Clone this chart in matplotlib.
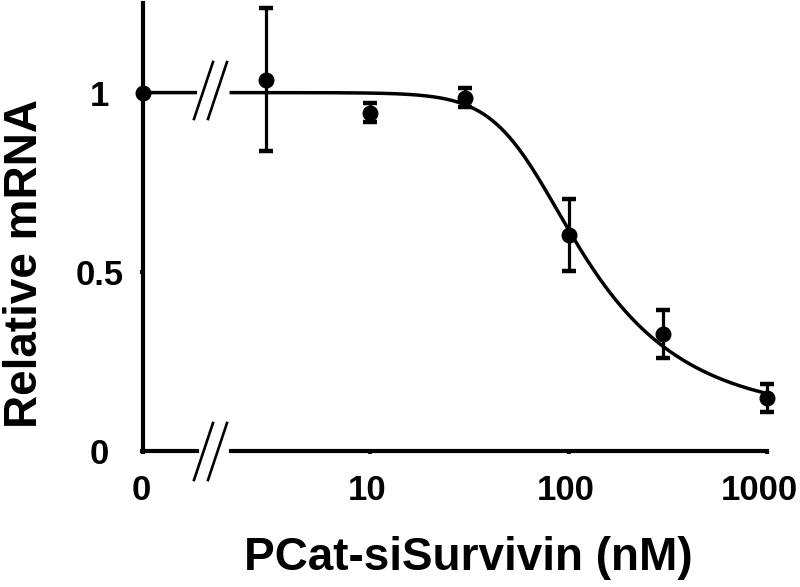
import numpy as np
import matplotlib
matplotlib.use("Agg")
import matplotlib.pyplot as plt
from matplotlib.lines import Line2D
from matplotlib.ticker import NullLocator
from matplotlib.transforms import ScaledTranslation

plt.rcParams['font.family'] = ['Liberation Sans', 'DejaVu Sans']
plt.rcParams['font.weight'] = 'bold'

# ---- data ----
conc_zero = [0]
rel_zero = [1.0]
conc = [3, 10, 30, 100, 300, 1000]
rel = [1.036, 0.944, 0.986, 0.603, 0.327, 0.148]
err = [0.200, 0.027, 0.027, 0.100, 0.067, 0.039]

# fitted dose-response curve parameters (5-parameter logistic)
fit_top, fit_bottom, fit_ec50, fit_hill, fit_asym = 1.0, 0.10, 60.0, 3.0, 0.32

x_ticks = [10, 100, 1000]
x_ticklabels = ['10', '100', '1000']
y_ticks = [0, 0.5, 1]
y_ticklabels = ['0', '0.5', '1']
x_label = 'PCat-siSurvivin (nM)'
y_label = 'Relative mRNA'


def curve(x):
    x = np.asarray(x, float)
    return fit_bottom + (fit_top - fit_bottom) / (1 + (x / fit_ec50) ** fit_hill) ** fit_asym


W, H = 800, 587
fig = plt.figure(figsize=(W / 100, H / 100), dpi=100)


def fx(px):
    return px / W


def fy(py):
    return 1 - py / H


y0_px, ytop_px = 451, 3
ax_h = fy(ytop_px) - fy(y0_px)
ax_l = fig.add_axes([fx(143), fy(y0_px), fx(197) - fx(143), ax_h])
ax_r = fig.add_axes([fx(231.3), fy(y0_px), fx(767) - fx(231.3), ax_h])

SPW = 3.0
TICK_FS = 25

for ax in (ax_l, ax_r):
    ax.set_ylim(0, 1.25)
    ax.patch.set_alpha(0)
    for s in ('top', 'right'):
        ax.spines[s].set_visible(False)
    for s in ('left', 'bottom'):
        ax.spines[s].set_linewidth(SPW)
        ax.spines[s].set_capstyle('projecting')
    ax.tick_params(axis='both', direction='out', length=2, width=SPW,
                   labelsize=TICK_FS)

# left segment (x = 0)
ax_l.set_xlim(0, 1)
xl = np.array([0.0, 1.0])
ax_l.plot(xl, curve(xl), color='k', lw=2.5, solid_capstyle='butt', clip_on=False)
ax_l.plot(conc_zero, rel_zero, 'o', color='k', ms=10.5, clip_on=False, zorder=5)
ax_l.set_xticks([0])
ax_l.set_xticklabels(['0'])
ax_l.set_yticks(y_ticks)
ax_l.set_yticklabels(y_ticklabels)
ax_l.tick_params(axis='y', pad=29.5)
ax_l.tick_params(axis='x', pad=14.5)
for lbl in ax_l.get_yticklabels():
    lbl.set_ha('center')
    lbl.set_fontweight('bold')
for lbl in ax_l.get_xticklabels():
    lbl.set_fontweight('bold')
    lbl.set_transform(lbl.get_transform() + ScaledTranslation(-2 / 100, 0, fig.dpi_scale_trans))

# right segment (log scale)
ax_r.set_xscale('log')
ax_r.set_xlim(2, 1000)
ax_r.spines['left'].set_visible(False)
ax_r.set_yticks([])
xs = np.logspace(np.log10(2), 3, 500)
ax_r.plot(xs, curve(xs), color='k', lw=2.5, clip_on=False)
eb = ax_r.errorbar(conc, rel, yerr=err, fmt='o', color='k', ms=10.5,
                   elinewidth=2.3, capsize=5, capthick=3.2, clip_on=False, zorder=5)
for art in eb.lines:
    if art is None:
        continue
    if isinstance(art, (list, tuple)):
        for a in art:
            a.set_clip_on(False)
    else:
        art.set_clip_on(False)
ax_r.set_xticks(x_ticks)
ax_r.set_xticklabels(x_ticklabels)
ax_r.xaxis.set_minor_locator(NullLocator())
ax_r.tick_params(axis='x', pad=14.5)
shifts = [-3, -3, -7.5]
for lbl, sh in zip(ax_r.get_xticklabels(), shifts):
    lbl.set_fontweight('bold')
    lbl.set_transform(lbl.get_transform() + ScaledTranslation(sh / 100, 0, fig.dpi_scale_trans))

# axis-break marks "//"
for yc in (451.5, 90.5):
    for xc in (203.5, 217.5):
        fig.add_artist(Line2D([fx(xc - 9.5), fx(xc + 9.5)], [fy(yc + 28.5), fy(yc - 28.5)],
                              transform=fig.transFigure, color='k', lw=1.9))

# axis titles
fig.text(fx(468.5), fy(570), x_label, ha='center', va='baseline',
         fontsize=33, fontweight='bold')
fig.text(fx(37), fy(263), y_label, ha='center', va='baseline', rotation=90,
         rotation_mode='anchor', fontsize=33, fontweight='bold')

fig.savefig('out.png', dpi=100)
